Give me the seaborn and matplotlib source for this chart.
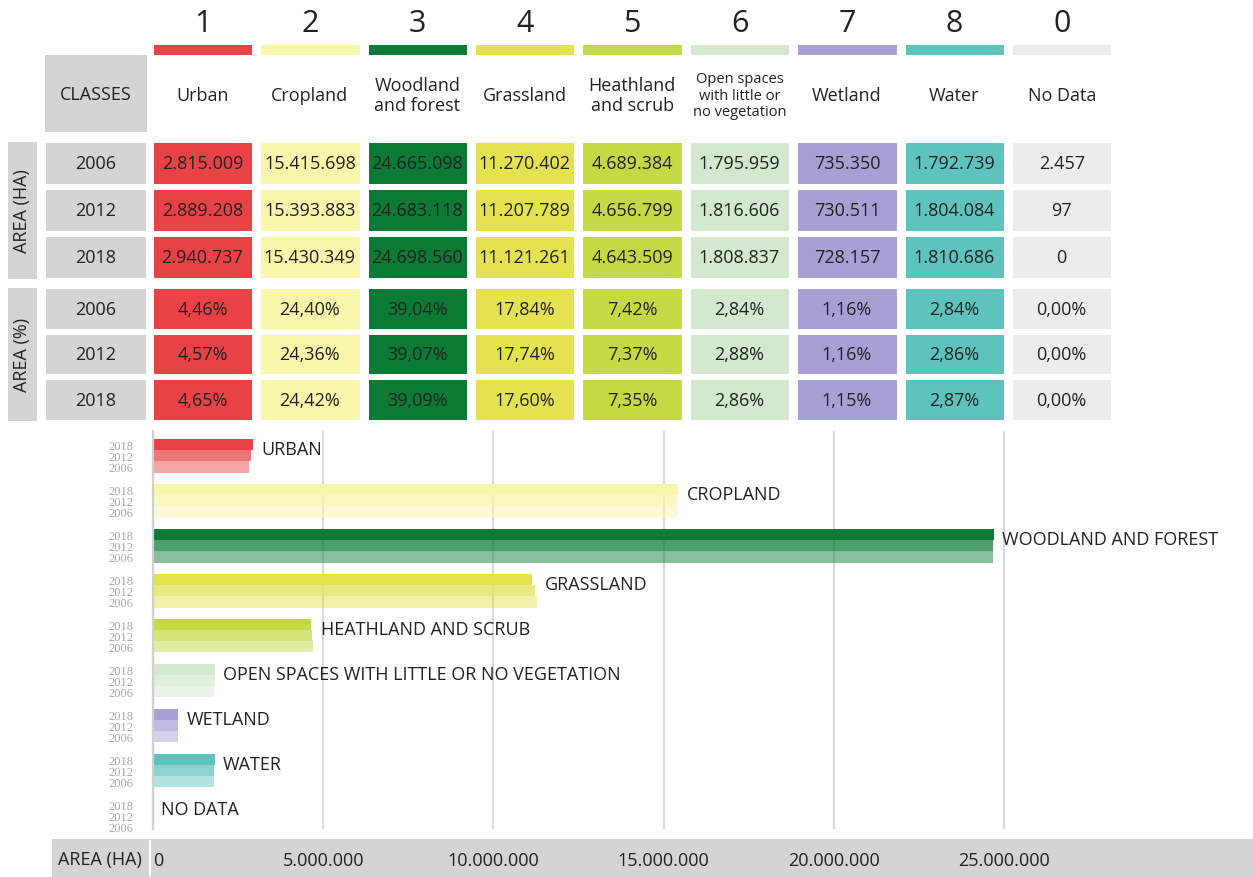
# ======================================
# IMPORTS
import numpy as np
import pandas as pd
import matplotlib
matplotlib.use("Agg")
import matplotlib.pyplot as plt
from matplotlib.colors import ListedColormap
from matplotlib.patches import Rectangle
import seaborn as sns

# ======================================
# DATA
codes = ["1", "2", "3", "4", "5", "6", "7", "8", "0"]
class_names = ["Urban", "Cropland", "Woodland\nand forest", "Grassland",
               "Heathland\nand scrub", "Open spaces\nwith little or\nno vegetation",
               "Wetland", "Water", "No Data"]
bar_labels = ["URBAN", "CROPLAND", "WOODLAND AND FOREST", "GRASSLAND",
              "HEATHLAND AND SCRUB", "OPEN SPACES WITH LITTLE OR NO VEGETATION",
              "WETLAND", "WATER", "NO DATA"]
class_colors = ["#e84246", "#f9f5aa", "#0b7a35", "#e4e24f", "#c6d944",
                "#d3e9cd", "#a6a1d5", "#5ec3bc", "#ececec"]
years = ["2006", "2012", "2018"]

ha_2006 = [2815009, 15415698, 24665098, 11270402, 4689384, 1795959, 735350, 1792739, 2457]
ha_2012 = [2889208, 15393883, 24683118, 11207789, 4656799, 1816606, 730511, 1804084, 97]
ha_2018 = [2940737, 15430349, 24698560, 11121261, 4643509, 1808837, 728157, 1810686, 0]

pct_2006 = [4.46, 24.40, 39.04, 17.84, 7.42, 2.84, 1.16, 2.84, 0.00]
pct_2012 = [4.57, 24.36, 39.07, 17.74, 7.37, 2.88, 1.16, 2.86, 0.00]
pct_2018 = [4.65, 24.42, 39.09, 17.60, 7.35, 2.86, 1.15, 2.87, 0.00]

x_ticks = [0, 5000000, 10000000, 15000000, 20000000, 25000000]

# ======================================
# STYLE
sns.set_style("white")
plt.rcParams["font.family"] = ["Open Sans", "DejaVu Sans"]
TXT = "#222222"
GRAY = "#d4d4d4"
FS = 13

W, H = 1253, 878
fig = plt.figure(figsize=(W / 100, H / 100), dpi=100)


def box(x0, y0, x1, y1):
    # axes placed in pixel coords measured from top-left
    return fig.add_axes([x0 / W, 1 - y1 / H, (x1 - x0) / W, (y1 - y0) / H])


def fmt_ha(v):
    return f"{v:,}".replace(",", ".")


def fmt_pct(v):
    return f"{v:.2f}".replace(".", ",") + "%"


def gray_box(x0, y0, x1, y1, text, rot=0):
    a = box(x0, y0, x1, y1)
    a.set_facecolor(GRAY)
    a.set_xticks([])
    a.set_yticks([])
    for s in a.spines.values():
        s.set_visible(False)
    a.text(0.5, 0.5, text, rotation=rot, ha="center", va="center", fontsize=FS,
           color=TXT, transform=a.transAxes)
    return a


cmap = ListedColormap(class_colors)
col_idx = np.tile(np.arange(len(codes)), (3, 1))
TX0, TX1 = 148.8, 1115.4

# ======================================
# HEADER: codes, colour strips, class names
ax_head = box(TX0, 0, TX1, 44)
ax_head.set_xlim(0, 9)
ax_head.set_ylim(0, 1)
ax_head.axis("off")
for i, c in enumerate(codes):
    ax_head.text(i + 0.5, 0.45, c, ha="center", va="center", fontsize=22, color=TXT)

ax_strip = box(TX0, 43, TX1, 58)
sns.heatmap(col_idx[:1], ax=ax_strip, cmap=cmap, vmin=-0.5, vmax=8.5, cbar=False,
            linewidths=2.5, linecolor="white", xticklabels=False, yticklabels=False)
ax_strip.vlines(range(0, 10), 0, 1, color="white", lw=6.5)

ax_names = box(TX0, 57, TX1, 135)
ax_names.set_xlim(0, 9)
ax_names.set_ylim(0, 1)
ax_names.axis("off")
for i, n in enumerate(class_names):
    fs = 10.5 if n.count("\n") > 1 else FS
    ax_names.text(i + 0.5, 0.5, n, ha="center", va="center", fontsize=fs, color=TXT,
                  linespacing=1.15)

gray_box(45, 56, 147, 133, "CLASSES")

# ======================================
# TABLES (heatmaps)
ha_annot = np.array([[fmt_ha(v) for v in row] for row in (ha_2006, ha_2012, ha_2018)])
pct_annot = np.array([[fmt_pct(v) for v in row] for row in (pct_2006, pct_2012, pct_2018)])

for (y0, y1), annot, side in [((141, 281.5), ha_annot, "AREA (HA)"),
                              ((287, 423.5), pct_annot, "AREA (%)")]:
    ax_t = box(TX0, y0, TX1, y1)
    sns.heatmap(col_idx, ax=ax_t, cmap=cmap, vmin=-0.5, vmax=8.5, cbar=False,
                annot=annot, fmt="", annot_kws={"color": TXT, "fontsize": FS},
                linewidths=3.2, linecolor="white", xticklabels=False, yticklabels=False)
    ax_t.vlines(range(0, 10), 0, 3, color="white", lw=6.5)

    ax_y = box(43, y0, 149, y1)
    sns.heatmap(np.zeros((3, 1)), ax=ax_y, cmap=ListedColormap([GRAY]), cbar=False,
                annot=np.array(years).reshape(3, 1), fmt="",
                annot_kws={"color": TXT, "fontsize": FS},
                linewidths=3.2, linecolor="white", xticklabels=False, yticklabels=False)

    gray_box(8, y0 + 2, 37, y1 - 2, side, rot=90)

# ======================================
# BAR CHART
df = pd.DataFrame({
    "class": bar_labels * 3,
    "year": [y for y in years for _ in bar_labels],
    "area": ha_2006 + ha_2012 + ha_2018,
})

ax = box(153, 432, W, 830)
hue_order = ["2018", "2012", "2006"]
sns.barplot(data=df, y="class", x="area", hue="year", hue_order=hue_order,
            order=bar_labels, orient="h", width=0.75, saturation=1,
            legend=False, ax=ax)

alphas = [1.0, 0.72, 0.48]
tick_pos, tick_lab = [], []
for cont, a, yr in zip(ax.containers, alphas, hue_order):
    for bar, col in zip(cont, class_colors):
        bar.set_facecolor(col)
        bar.set_alpha(a)
        bar.set_edgecolor("none")
        tick_pos.append(bar.get_y() + bar.get_height() / 2)
        tick_lab.append(yr)

ax.set_xlim(0, (W - 153) / 170.2 * 5000000)
ax.set_ylim(8.3, -0.55)
ax.set_yticks(tick_pos)
ax.set_yticklabels(tick_lab, fontsize=9, color="#a8a8a8", family="Liberation Serif")
ax.tick_params(axis="y", length=0, pad=14)

ax.set_xticks(x_ticks)
ax.set_xticklabels([fmt_ha(t) for t in x_ticks], fontsize=FS, color=TXT)
ax.tick_params(axis="x", length=0, pad=16)
ax.get_xticklabels()[0].set_ha("left")
ax.set_xlabel("")
ax.set_ylabel("")

ax.grid(axis="x", color="#dadada", lw=1.6)
ax.grid(axis="y", visible=False)
ax.set_axisbelow(True)
for s in ["top", "right", "bottom"]:
    ax.spines[s].set_visible(False)
ax.spines["left"].set_color("#d0d0d0")
ax.spines["left"].set_linewidth(1.6)

maxes = [max(v) for v in zip(ha_2006, ha_2012, ha_2018)]
for i, (lab, m) in enumerate(zip(bar_labels, maxes)):
    ax.annotate(lab, (m, i - 0.14), xytext=(6, 0), textcoords="offset points",
                ha="left", va="center", fontsize=FS, color=TXT)

# bottom band
fig.patches.append(Rectangle((52 / W, 0), (W - 52) / W, 38 / H, transform=fig.transFigure,
                             facecolor=GRAY, edgecolor="none", zorder=-5))
fig.add_artist(plt.Line2D([150 / W, 150 / W], [2 / H, 36 / H], color="white", lw=1.5))
fig.text(58 / W, 1 - 860 / H, "AREA (HA)", ha="left", va="center", fontsize=FS, color=TXT)

plt.savefig("out.png", dpi=100)
